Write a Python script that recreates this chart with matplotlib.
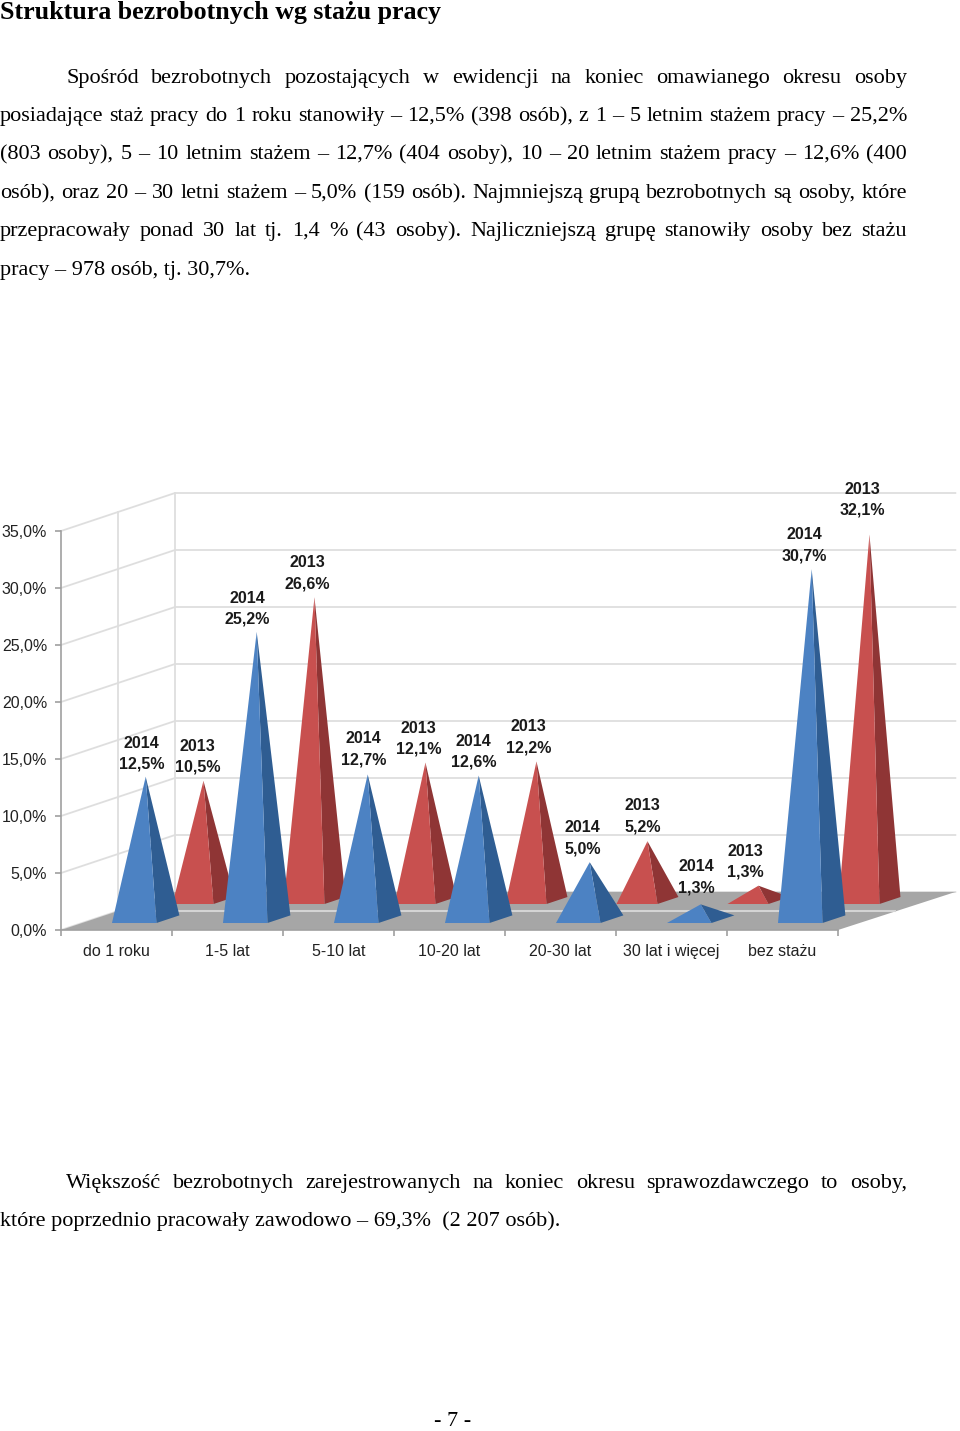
import numpy as np
import matplotlib
matplotlib.use("Agg")
import matplotlib.pyplot as plt
from matplotlib.patches import Polygon

# Data
categories = ['do 1 roku', '1-5 lat', '5-10 lat', '10-20 lat', '20-30 lat', '30 lat i więcej', 'bez stażu']
values_2014 = [12.5, 25.2, 12.7, 12.6, 5.0, 1.3, 30.7]
values_2013 = [10.5, 26.6, 12.1, 12.2, 5.2, 1.3, 32.1]
y_ticks = [0, 5, 10, 15, 20, 25, 30, 35]

title = 'Struktura bezrobotnych wg stażu pracy'
para1 = ['Spośród bezrobotnych pozostających w ewidencji na koniec omawianego okresu osoby',
         'posiadające staż pracy do 1 roku stanowiły – 12,5% (398 osób), z 1 – 5 letnim stażem pracy – 25,2%',
         '(803 osoby), 5 – 10 letnim stażem – 12,7% (404 osoby), 10 – 20 letnim stażem pracy – 12,6% (400',
         'osób), oraz 20 – 30 letni stażem – 5,0% (159 osób). Najmniejszą grupą bezrobotnych są osoby, które',
         'przepracowały ponad 30 lat tj. 1,4 % (43 osoby). Najliczniejszą grupę stanowiły osoby bez stażu',
         'pracy – 978 osób, tj. 30,7%.']
para2 = ['Większość bezrobotnych zarejestrowanych na koniec okresu sprawozdawczego to osoby,',
         'które poprzednio pracowały zawodowo – 69,3%  (2 207 osób).']

W, H = 960, 1431
fig = plt.figure(figsize=(W / 100, H / 100), dpi=100)
ax = fig.add_axes([61 / W, (H - 930) / H, 777 / W, 399 / H])
ax.set_xlim(0, 7)
ax.set_ylim(0, 35)
ax.patch.set_visible(False)

# depth projection: z=0 front of the floor, z=1 back wall
DX = 114 / 111
DY = 38 / 11.4


def project(x, v, z):
    return x + z * DX, v + z * DY


# walls
grid = '#dedede'
for t in y_ticks:
    p0 = project(0, t, 0)
    p1 = project(0, t, 1)
    p2 = project(7.03, t, 1)
    ax.plot([p0[0], p1[0], p2[0]], [p0[1], p1[1], p2[1]], color=grid, lw=1.3, clip_on=False, zorder=1)
for z in [0.5, 1]:
    p0 = project(0, 0, z)
    p1 = project(0, 35, z)
    ax.plot([p0[0], p1[0]], [p0[1], p1[1]], color=grid, lw=1.3, clip_on=False, zorder=1)

# floor
floor = [project(0, 0, 0), project(7, 0, 0), project(7.03, 0, 1), project(0, 0, 1)]
ax.add_patch(Polygon(floor, closed=True, fc='#a6a6a6', ec='none', clip_on=False, zorder=2))
p0 = project(0, 0, 0.5)
p1 = project(7, 0, 0.5)
ax.plot([p0[0], p1[0]], [p0[1], p1[1]], color='#d4d4d4', lw=1.5, clip_on=False, zorder=2.5)


def pyramid(i, value, offset, width, z0, z1, front, side, zorder):
    x0 = i + offset
    x1 = x0 + width
    apex = project((x0 + x1) / 2, value, (z0 + z1) / 2)
    a = project(x0, 0, z0)
    b = project(x1, 0, z0)
    c = project(x1, 0, z1)
    ax.add_patch(Polygon([b, c, apex], closed=True, fc=side, ec='none', clip_on=False, zorder=zorder))
    ax.add_patch(Polygon([a, b, apex], closed=True, fc=front, ec='none', clip_on=False, zorder=zorder))
    return apex


label_font = 'Liberation Sans'

# label offsets from the apex, in pixels
off_2013 = [(-6, 6), (-7, 6), (-7, 6), (-8, 6), (-5, 7), (-13, 6), (-7, 17)]
off_2014 = [(-4, 5), (-9, 5), (-4, 7), (-5, 6), (-7, 6), (-4, 9), (-7, 6)]

for i, v in enumerate(values_2013):
    apex = pyramid(i, v, 33.5 / 111, 41 / 111, 0.684, 0.868, '#c8504f', '#8f3535', 3 + i * 0.01)
    ax.annotate('2013\n%s%%' % ('%.1f' % v).replace('.', ','), xy=apex, xytext=off_2013[i],
                textcoords='offset pixels', ha='center', va='bottom', fontsize=11.5, fontweight='bold',
                family=label_font, color='#1a1a1a', linespacing=1.5, annotation_clip=False, zorder=6)

for i, v in enumerate(values_2014):
    apex = pyramid(i, v, 30 / 111, 44.5 / 111, 0.184, 0.385, '#4c82c3', '#2f5d92', 4 + i * 0.01)
    ax.annotate('2014\n%s%%' % ('%.1f' % v).replace('.', ','), xy=apex, xytext=off_2014[i],
                textcoords='offset pixels', ha='center', va='bottom', fontsize=11.5, fontweight='bold',
                family=label_font, color='#1a1a1a', linespacing=1.5, annotation_clip=False, zorder=6)

# axes
for s in ['top', 'right']:
    ax.spines[s].set_visible(False)
for s in ['left', 'bottom']:
    ax.spines[s].set_color('#a0a0a0')
    ax.spines[s].set_linewidth(1.2)
    ax.spines[s].set_zorder(5)
ax.set_yticks(y_ticks)
ax.set_yticklabels([('%.1f%%' % t).replace('.', ',') for t in y_ticks], family=label_font,
                   fontsize=11.5, color='#222222')
ax.tick_params(axis='y', length=4, width=1.2, color='#a0a0a0', pad=6)
ax.set_xticks(np.arange(8))
ax.set_xticklabels([])
ax.set_xticks(np.arange(7) + 0.5, minor=True)
ax.set_xticklabels(categories, minor=True, family=label_font, fontsize=11.5, color='#222222')
ax.tick_params(axis='x', which='major', length=4, width=1.2, color='#a0a0a0')
ax.tick_params(axis='x', which='minor', length=0, pad=10)


# page text
def px_text(x, y, s, **kw):
    return fig.text(x / W, 1 - y / H, s, family='Liberation Serif', color='black', va='baseline', **kw)


def justified(line, x0, x1, y, fontsize):
    renderer = fig.canvas.get_renderer()
    words = line.split()
    items = [px_text(x0, y, w, fontsize=fontsize) for w in words]
    widths = [t.get_window_extent(renderer).width for t in items]
    gap = (x1 - x0 - sum(widths)) / (len(words) - 1)
    x = x0
    for t, w in zip(items, widths):
        t.set_x(x / W)
        x += w + gap


px_text(0, 19, title, fontsize=18.7, fontweight='bold')

FS = 16.0
ys1 = [83, 121, 159, 198, 236, 275]
for k, line in enumerate(para1):
    if k == len(para1) - 1:
        px_text(0, ys1[k], line, fontsize=FS)
    else:
        justified(line, 66 if k == 0 else 0, 907, ys1[k], FS)

justified(para2[0], 66, 907, 1188, FS)
px_text(0, 1226, para2[1], fontsize=FS)
px_text(453, 1426, '- 7 -', fontsize=FS, ha='center')

fig.savefig('out.png', dpi=100)
